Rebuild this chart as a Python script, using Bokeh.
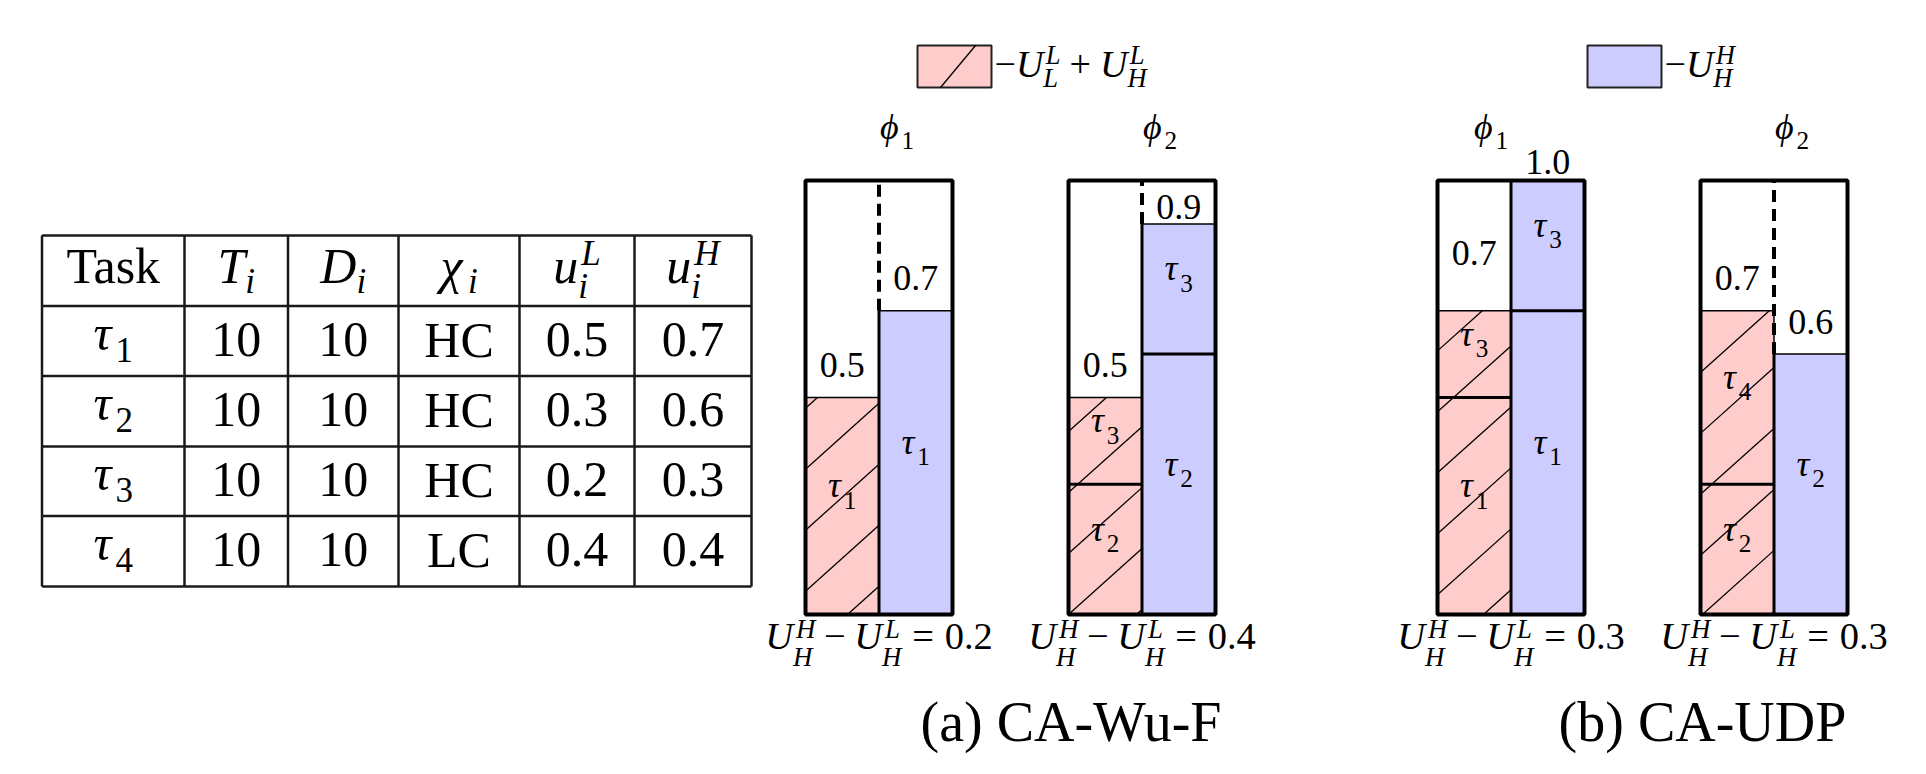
import math
from bokeh.plotting import figure
from bokeh.models import Range1d, ColumnDataSource
from bokeh.core.properties import value
from bokeh.embed import file_html
from bokeh.resources import INLINE

# ---------------- data ----------------
task_ids = [1, 2, 3, 4]
periods = [10, 10, 10, 10]
deadlines = [10, 10, 10, 10]
criticality = ["HC", "HC", "HC", "LC"]
u_low = [0.5, 0.3, 0.2, 0.4]
u_high = [0.7, 0.6, 0.3, 0.4]

box_scheme = [0, 0, 1, 1]
box_processor = [1, 2, 1, 2]
box_low_tasks = [[1], [2, 3], [1, 3], [2, 4]]
box_high_tasks = [[1], [2, 3], [1, 3], [2]]
box_gap = [0.2, 0.4, 0.3, 0.3]
scheme_titles = ["(a) CA-Wu-F", "(b) CA-UDP"]

# ---------------- layout / style ----------------
FONT = "Liberation Serif, Times New Roman, serif"
PINK = "#ffcccc"
BLUE = "#ccccff"
W, H = 1910, 758
OX, OY = 0, 0
BOX_BOTTOM_PX, PX_PER_U = 614, 434
BOX_LEFT = [805, 1068, 1437, 1700]
BOX_W = 147
PHI_DX = [18, 18, -20, 18]
HATCH_PHASE = [42, 0, 46, 2]
HATCH_SPACING = 68
HATCH_SLOPE = 484  # px in x per unit of utilisation along a hatch line
FS = 36
BASE_CORR = -0.37  # baseline correction (fraction of font size)

p = figure(width=W, height=H, x_range=Range1d(OX, OX + W), y_range=Range1d(OY + H, OY),
           output_backend="svg", toolbar_location=None,
           x_axis_location=None, y_axis_location=None, min_border=0)
p.extra_y_ranges = {"u": Range1d((BOX_BOTTOM_PX - (OY + H)) / PX_PER_U,
                                 (BOX_BOTTOM_PX - OY) / PX_PER_U)}
p.xgrid.visible = False
p.ygrid.visible = False
p.outline_line_color = None
p.background_fill_color = "white"
p.border_fill_color = "white"

# ---------------- text helpers ----------------
W_REG = {c: 0.5 for c in "0123456789"}
W_REG.update({".": 0.25, "\u2212": 0.564, "+": 0.564, "=": 0.564})
W_IT = {"U": 0.722, "H": 0.722, "L": 0.556, "T": 0.556, "D": 0.722, "u": 0.5,
        "i": 0.278, "\u03c4": 0.44, "\u03d5": 0.6, "\u03c7": 0.55}


def tw(s, ital, fs):
    tab = W_IT if ital else W_REG
    return sum(tab.get(c, 0.5) for c in s) * fs


TXT = {}


def put(rng, x, y, text, size, ital, dy, align="left"):
    key = (rng, round(size, 1), "italic" if ital else "normal", align)
    d = TXT.setdefault(key, dict(x=[], y=[], text=[], dy=[]))
    d["x"].append(x)
    d["y"].append(y)
    d["text"].append(text)
    d["dy"].append(dy + BASE_CORR * size)


def flush():
    for (rng, size, style, align), d in TXT.items():
        p.text(x="x", y="y", text="text", y_offset="dy", source=ColumnDataSource(d),
               text_font=value(FONT), text_font_size=f"{size:g}px", text_font_style=style,
               text_align=align, text_baseline="alphabetic", text_color="black",
               y_range_name=rng)
    TXT.clear()


def plain(x, y, text, fs, rng="default", ital=False, dy=0.0, align="center"):
    put(rng, x, y, text, fs, ital, dy, align)


def rich(items, x, y, fs, rng="default", align="center", dy=0.0,
         sub_dy=0.3, sup_dy=-0.36, sc=0.7, sup_dx=0.06):
    """items: ('r', txt) upright, ('i', txt) italic, ('sp', em) space,
    ('sub', txt, italic), ('ss', sup, sub, italic)"""
    pieces = []
    cx = 0.0
    for it in items:
        kind = it[0]
        if kind == "sp":
            cx += it[1] * fs
        elif kind in ("r", "i"):
            ital = kind == "i"
            pieces.append((cx, it[1], fs, ital, 0.0))
            cx += tw(it[1], ital, fs)
        elif kind == "sub":
            pieces.append((cx, it[1], fs * sc, it[2], sub_dy * fs))
            cx += tw(it[1], it[2], fs * sc)
        elif kind == "ss":
            sup, sub, ital = it[1], it[2], it[3]
            pieces.append((cx + sup_dx * fs, sup, fs * sc, ital, sup_dy * fs))
            pieces.append((cx, sub, fs * sc, ital, sub_dy * fs))
            cx += max(tw(sup, ital, fs * sc) + sup_dx * fs, tw(sub, ital, fs * sc))
    x0 = x - cx / 2 if align == "center" else x
    for dx, t, s, ital, ddy in pieces:
        put(rng, x0 + dx, y, t, s, ital, dy + ddy)


def hatch_lines(x0, x1, v0, v1, xb0, spacing, slope, store, to_y=lambda v: v):
    n_min = math.floor((x0 - v1 * slope - xb0) / spacing) - 1
    n_max = math.ceil((x1 - v0 * slope - xb0) / spacing) + 1
    for n in range(n_min, n_max + 1):
        xb = xb0 + n * spacing
        lo = max(v0, (x0 - xb) / slope)
        hi = min(v1, (x1 - xb) / slope)
        if hi - lo > 1e-9:
            store["x0"].append(xb + lo * slope)
            store["y0"].append(to_y(lo))
            store["x1"].append(xb + hi * slope)
            store["y1"].append(to_y(hi))


# ---------------- table ----------------
col_edges = [41.5, 184, 287.5, 398, 519, 634, 751]
row_edges = [235, 305.5, 375.5, 446, 515.5, 586]
TFS = 50
p.segment(x0=[col_edges[0]] * len(row_edges), x1=[col_edges[-1]] * len(row_edges),
          y0=row_edges, y1=row_edges, line_color="#1a1a1a", line_width=2.5)
p.segment(x0=col_edges, x1=col_edges, y0=[row_edges[0]] * len(col_edges),
          y1=[row_edges[-1]] * len(col_edges), line_color="#1a1a1a", line_width=2.5)
cc = [(col_edges[i] + col_edges[i + 1]) / 2 for i in range(len(col_edges) - 1)]
rc = [(row_edges[i] + row_edges[i + 1]) / 2 for i in range(len(row_edges) - 1)]
hb = 284
plain(cc[0], hb, "Task", TFS)
rich([("i", "T"), ("sub", "i", True)], cc[1], hb, TFS, sub_dy=0.2)
rich([("i", "D"), ("sub", "i", True)], cc[2], hb, TFS, sub_dy=0.2)
rich([("i", "\u03c7"), ("sub", "i", True)], cc[3], hb, TFS, sub_dy=0.2)
rich([("i", "u"), ("ss", "L", "i", True)], cc[4], hb, TFS, sub_dy=0.3, sup_dy=-0.37)
rich([("i", "u"), ("ss", "H", "i", True)], cc[5], hb, TFS, sub_dy=0.3, sup_dy=-0.37)
for r, t in enumerate(task_ids):
    y = rc[r + 1]
    rich([("i", "\u03c4"), ("sub", str(t), False)], cc[0], y + 10, TFS, sub_dy=0.24)
    vals = [str(periods[r]), str(deadlines[r]), criticality[r], f"{u_low[r]:.1f}", f"{u_high[r]:.1f}"]
    for c, v in enumerate(vals):
        plain(cc[c + 1], y + 17, v, TFS)

# ---------------- legend ----------------
p.quad(left=[917], right=[991], top=[45], bottom=[87], fill_color=PINK,
       line_color="#222222", line_width=2)
lg = dict(x0=[], x1=[], y0=[], y1=[])
hatch_lines(917, 991, 0, 42, 917 + 23, 200, 35 / 42, lg, to_y=lambda v: 87 - v)
p.segment(source=ColumnDataSource(lg), x0="x0", x1="x1", y0="y0", y1="y1",
          line_color="black", line_width=1.3)
rich([("r", "\u2212"), ("i", "U"), ("ss", "L", "L", True), ("sp", 0.24), ("r", "+"), ("sp", 0.24),
      ("i", "U"), ("ss", "L", "H", True)],
     994, 78, 38, align="left", sup_dy=-0.36, sub_dy=0.25)
p.quad(left=[1587], right=[1661], top=[45], bottom=[87], fill_color=BLUE,
       line_color="#222222", line_width=2)
rich([("r", "\u2212"), ("i", "U"), ("ss", "H", "H", True)], 1664, 78, 38, align="left",
     sup_dy=-0.36, sub_dy=0.25)

# ---------------- boxes ----------------
pk = dict(left=[], right=[], bottom=[], top=[])
bl = dict(left=[], right=[], bottom=[], top=[])
hat = dict(x0=[], x1=[], y0=[], y1=[])
inner = dict(x0=[], x1=[], y0=[], y1=[])
divs = dict(x0=[], x1=[], y0=[], y1=[])
dash = dict(x0=[], x1=[], y0=[], y1=[])
outl = dict(left=[], right=[], bottom=[], top=[])
late = []  # labels drawn after the outlines

for b in range(len(box_scheme)):
    left = BOX_LEFT[b]
    mid = left + BOX_W / 2
    right = left + BOX_W
    tops = []
    for side, tasks, util, store, x0, x1 in (("L", box_low_tasks[b], u_low, pk, left, mid),
                                             ("H", box_high_tasks[b], u_high, bl, mid, right)):
        base = 0.0
        for k, t in enumerate(tasks):
            v = util[t - 1]
            store["left"].append(x0)
            store["right"].append(x1)
            store["bottom"].append(base)
            store["top"].append(base + v)
            if side == "L":
                hatch_lines(x0, x1, base, base + v, left + HATCH_PHASE[b], HATCH_SPACING,
                            HATCH_SLOPE, hat)
            if k > 0:
                inner["x0"].append(x0)
                inner["x1"].append(x1)
                inner["y0"].append(base)
                inner["y1"].append(base)
            rich([("i", "\u03c4"), ("sub", str(t), False)], (x0 + x1) / 2, base + v / 2 + 0.035,
                 FS, rng="u", dy=8, sub_dy=0.3)
            base += v
        tops.append(base)
    low_top, high_top = tops
    divs["x0"].append(mid); divs["x1"].append(mid)
    divs["y0"].append(0.0); divs["y1"].append(high_top)
    if high_top < 0.999:
        dash["x0"].append(mid); dash["x1"].append(mid)
        dash["y0"].append(high_top); dash["y1"].append(1.0)
    # column total labels
    for top, other, xc in ((low_top, high_top, (left + mid) / 2), (high_top, low_top, (mid + right) / 2)):
        if top >= 0.999:
            ul = top + 0.04
        elif other >= 0.999:
            ul = (top + 1.0) / 2 - 0.02
        elif top + 0.072 > 0.96:
            ul = top + 0.035
        else:
            ul = top + 0.072
        plain(xc, ul, f"{top:.1f}", FS, rng="u", dy=12)
    outl["left"].append(left); outl["right"].append(right)
    outl["bottom"].append(0.0); outl["top"].append(1.0)
    late.append((b, left, mid, right))

p.quad(source=ColumnDataSource(pk), left="left", right="right", bottom="bottom", top="top",
       fill_color=PINK, line_color="black", line_width=1.5, y_range_name="u")
p.segment(source=ColumnDataSource(hat), x0="x0", x1="x1", y0="y0", y1="y1",
          line_color="black", line_width=1.3, y_range_name="u")
p.quad(source=ColumnDataSource(bl), left="left", right="right", bottom="bottom", top="top",
       fill_color=BLUE, line_color="black", line_width=1.5, y_range_name="u")
p.segment(source=ColumnDataSource(inner), x0="x0", x1="x1", y0="y0", y1="y1",
          line_color="black", line_width=3, y_range_name="u")
p.segment(source=ColumnDataSource(divs), x0="x0", x1="x1", y0="y0", y1="y1",
          line_color="black", line_width=3, y_range_name="u")
p.segment(source=ColumnDataSource(dash), x0="x0", x1="x1", y0="y0", y1="y1",
          line_color="black", line_width=4, line_dash="12 7", y_range_name="u")
flush()
p.quad(source=ColumnDataSource(outl), left="left", right="right", bottom="bottom", top="top",
       fill_color=None, line_color="black", line_width=4, y_range_name="u")

for b, left, mid, right in late:
    rich([("i", "\u03d5"), ("sub", str(box_processor[b]), False)], (left + right) / 2 + PHI_DX[b], 140,
         FS, sub_dy=0.25)
    rich([("i", "U"), ("ss", "H", "H", True), ("sp", 0.22), ("r", "\u2212"), ("sp", 0.22),
          ("i", "U"), ("ss", "L", "H", True), ("sp", 0.28), ("r", "="), ("sp", 0.28),
          ("r", f"{box_gap[b]:.1f}")], mid, 650, 38.5, sup_dy=-0.3, sub_dy=0.42, sup_dx=0.08)

# ---------------- captions ----------------
plain(1070.5, 742, scheme_titles[0], 56)
plain(1702, 742, scheme_titles[1], 56)
flush()

open("out.html", "w").write(file_html(p, INLINE))
